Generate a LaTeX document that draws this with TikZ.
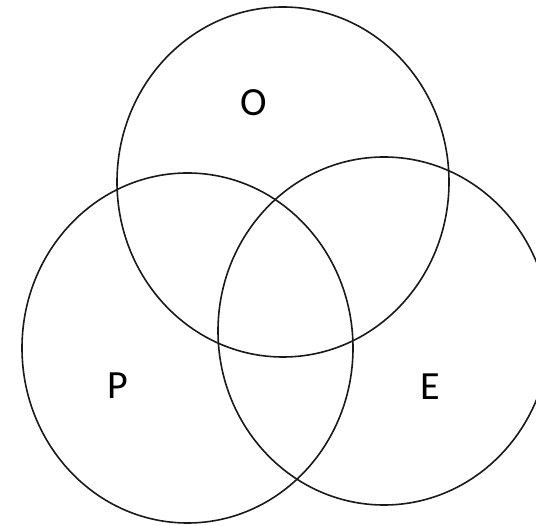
\documentclass[tikz,border=0pt]{standalone}
\usepackage{fontspec}
\setmainfont{Carlito}
\tikzset{
  venn/.style={draw=black!90, line width=1.6pt},
  lbl/.style={font=\fontsize{40}{42}\selectfont, text=black, inner sep=0pt}
}
\begin{document}
\begin{tikzpicture}[x=1pt,y=-1pt]
\useasboundingbox (0,0) rectangle (536,526);
\clip (0,0) rectangle (536,526);
\fill[white] (0,0) rectangle (536,526);
\draw[venn] (283,182) ellipse [x radius=166, y radius=175];
\draw[venn] (187.5,348) ellipse [x radius=165.5, y radius=175];
\draw[venn] (384,331) ellipse [x radius=166, y radius=174];
\node[lbl] (o) at (254,103) {O};
\node[lbl] (p) at (118,386) {P};
\node[lbl] (e) at (430,387) {E};
\end{tikzpicture}
\end{document}
